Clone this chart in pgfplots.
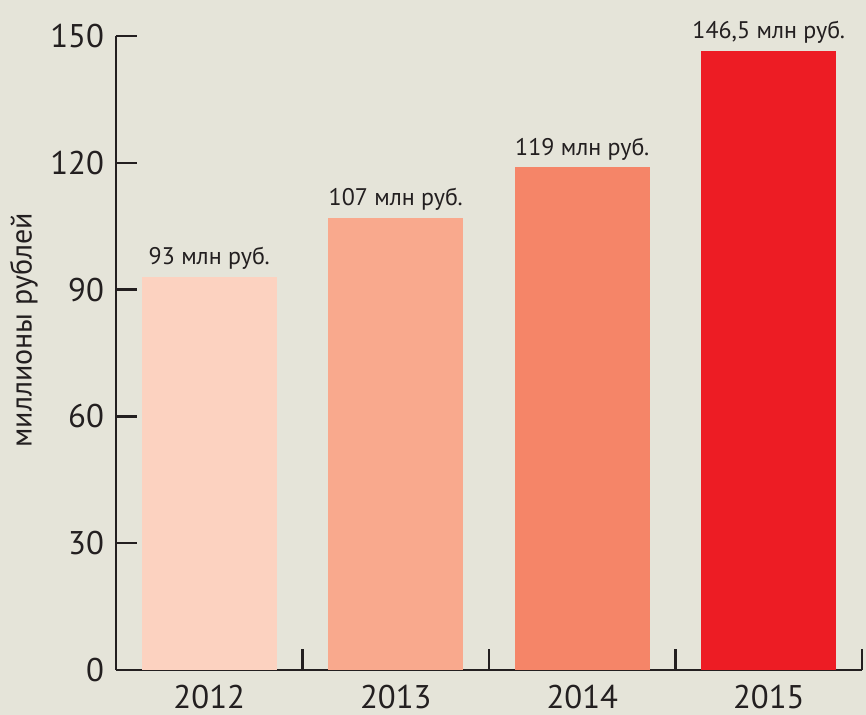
\documentclass[border=0pt]{standalone}
\usepackage{pgfplots}
\pgfplotsset{compat=1.18}
\usepackage{fontspec}
\setmainfont{PT Sans}
\definecolor{bg}{HTML}{E5E4D9}
\definecolor{txt}{HTML}{231F20}
\definecolor{c1}{HTML}{FCD2C0}
\definecolor{c2}{HTML}{F9A98D}
\definecolor{c3}{HTML}{F58568}
\definecolor{c4}{HTML}{ED1C24}
\begin{document}
\begin{tikzpicture}
\fill[bg] (-58pt,-22.5pt) rectangle (375pt,335pt);
\begin{axis}[
  ybar, bar width=0.724, bar shift=0pt,
  at={(0,0)}, anchor=south west, scale only axis,
  width=373pt, height=317pt,
  xmin=-0.5, xmax=3.5, ymin=0, ymax=150,
  axis x line*=bottom, axis y line*=left,
  axis line style={line width=1.2pt, color=txt, -},
  xtick align=inside, ytick align=inside,
  major tick length=10.5pt,
  tick style={line width=1.2pt, color=txt},
  ytick={0,30,60,90,120,150},
  xtick={0.5,1.5,2.5,3.5},
  xticklabels={},
  extra x ticks={0,1,2,3},
  extra x tick labels={2012,2013,2014,2015},
  extra x tick style={major tick length=0pt, xticklabel style={yshift=-4pt}},
  yticklabel style={xshift=-2.5pt},
  /pgf/number format/assume math mode=true,
  every tick label/.append style={font=\fontsize{16.4}{19}\selectfont, color=txt},
  ylabel={миллионы рублей},
  ylabel style={at={(axis description cs:-0.113,0.536)}, anchor=base, font=\fontsize{15}{18}\selectfont, color=txt},
  clip=false,
  nodes near coords, point meta=explicit symbolic,
  every node near coord/.append style={font=\fontsize{12}{14}\selectfont, color=txt},
]
\addplot[fill=c1, draw=none] coordinates {(0,93) [93 млн руб.]};
\addplot[fill=c2, draw=none] coordinates {(1,107) [107 млн руб.]};
\addplot[fill=c3, draw=none] coordinates {(2,119) [119 млн руб.]};
\addplot[fill=c4, draw=none] coordinates {(3,146.5) [{146,5 млн руб.}]};
\end{axis}
\pgfresetboundingbox
\path[use as bounding box] (-58pt,-22.5pt) rectangle (375pt,335pt);
\end{tikzpicture}
\end{document}
